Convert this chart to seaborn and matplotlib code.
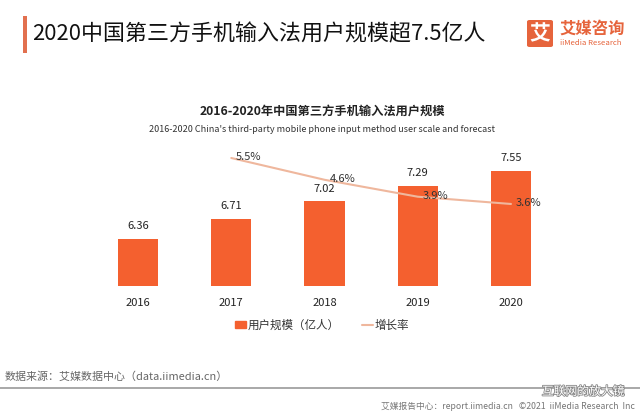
import matplotlib
matplotlib.use("Agg")
import matplotlib.pyplot as plt
import matplotlib.patches as mpatches
import matplotlib.patheffects as pe
from matplotlib.lines import Line2D
import seaborn as sns
import pandas as pd

years = ["2016", "2017", "2018", "2019", "2020"]
users = [6.36, 6.71, 7.02, 7.29, 7.55]
growth_years = ["2017", "2018", "2019", "2020"]
growth = [5.5, 4.6, 3.9, 3.6]

BAR = "#f4602f"
LINE = "#efb79d"

sns.set_theme(style="white")
plt.rcParams["font.family"] = ["Noto Sans CJK SC", "DejaVu Sans"]

fig = plt.figure(figsize=(6.4, 4.16), dpi=100)
W, H = 640, 416
ax = fig.add_axes([91.4 / W, 1 - 286 / H, 466.2 / W, 136 / H])

df = pd.DataFrame({"year": years, "users": users})
sns.barplot(data=df, x="year", y="users", color=BAR, width=0.43, ax=ax,
            saturation=1, edgecolor="none")
ax.set_xlim(-0.5, 4.5)
ax.set_ylim(5.537, 7.919)
for i, v in enumerate(users):
    ax.annotate(f"{v:.2f}", (i, v), xytext=(0, 5.5), textcoords="offset points",
                ha="center", va="bottom", fontsize=8, color="#222222")
ax.set_xlabel("")
ax.set_ylabel("")
ax.set_yticks([])
ax.tick_params(axis="x", length=0, labelsize=8, colors="#222222", pad=9)
for s in ax.spines.values():
    s.set_visible(False)

ax2 = ax.twinx()
gx = [years.index(y) for y in growth_years]
gdf = pd.DataFrame({"x": gx, "g": growth})
sns.lineplot(data=gdf, x="x", y="g", color=LINE, linewidth=1.5, ax=ax2)
ax2.set_ylim(0.211, 5.83)
ax2.set_xlim(-0.5, 4.5)
for x, g in zip(gx, growth):
    ax2.annotate(f"{g:.1f}%", (x, g), xytext=(3.5, 0.5), textcoords="offset points",
                 ha="left", va="center", fontsize=8, color="#333333")
ax2.set_yticks([])
ax2.set_xlabel("")
ax2.set_ylabel("")
for s in ax2.spines.values():
    s.set_visible(False)

# chart titles
fig.text(322 / W, 1 - 111 / H, "2016-2020年中国第三方手机输入法用户规模", ha="center", va="center",
         fontsize=8.8, fontweight="bold", color="#222222")
fig.text(322 / W, 1 - 129 / H, "2016-2020 China's third-party mobile phone input method user scale and forecast",
         ha="center", va="center", fontsize=6.5, color="#333333")

# legend
handles = [mpatches.Patch(color=BAR, label="用户规模（亿人）"),
           Line2D([0], [0], color=LINE, lw=1.5, label="增长率")]
fig.legend(handles=handles, loc="center", bbox_to_anchor=(322 / W, 1 - 325 / H), ncol=2,
           frameon=False, fontsize=8.3, handlelength=1.0, handleheight=0.6,
           handletextpad=0.15, columnspacing=1.9, labelcolor="#333333")

# header
fig.add_artist(mpatches.Rectangle((23 / W, 1 - 53 / H), 4 / W, 37 / H,
                                  transform=fig.transFigure, color="#e2704f", lw=0))
fig.text(32 / W, 1 - 34 / H, "2020中国第三方手机输入法用户规模超7.5亿人", ha="left", va="center",
         fontsize=15.8, fontweight="medium", color="#111111")
fig.add_artist(mpatches.FancyBboxPatch((527 / W, 1 - 47 / H), 26 / W, 27 / H,
                                       boxstyle="round,pad=0,rounding_size=0.004",
                                       transform=fig.transFigure, color="#e6643c", lw=0))
fig.text(540 / W, 1 - 33.5 / H, "艾", ha="center", va="center", fontsize=15,
         fontweight="bold", color="white")
fig.text(559 / W, 1 - 29 / H, "艾媒咨询", ha="left", va="center", fontsize=11.8,
         fontweight="bold", color="#e6643c")
fig.text(560 / W, 1 - 43 / H, "iiMedia Research", ha="left", va="center", fontsize=5.6,
         color="#e6643c")

# footer
fig.text(5 / W, 1 - 377 / H, "数据来源：艾媒数据中心（data.iimedia.cn）", ha="left", va="center",
         fontsize=7.9, color="#666666")
fig.add_artist(Line2D([0, 1], [1 - 388 / H, 1 - 388 / H], transform=fig.transFigure,
                      color="#999999", lw=1.2))
fig.text(635 / W, 1 - 406.5 / H, "艾媒报告中心：report.iimedia.cn   ©2021  iiMedia Research  Inc",
         ha="right", va="center", fontsize=6.3, color="#777777")
fig.text(583 / W, 1 - 391.5 / H, "互联网的放大镜", ha="center", va="center", fontsize=8.5,
         color="white", path_effects=[pe.withStroke(linewidth=1.2, foreground="#888888")])

fig.savefig("out.png", dpi=100)
